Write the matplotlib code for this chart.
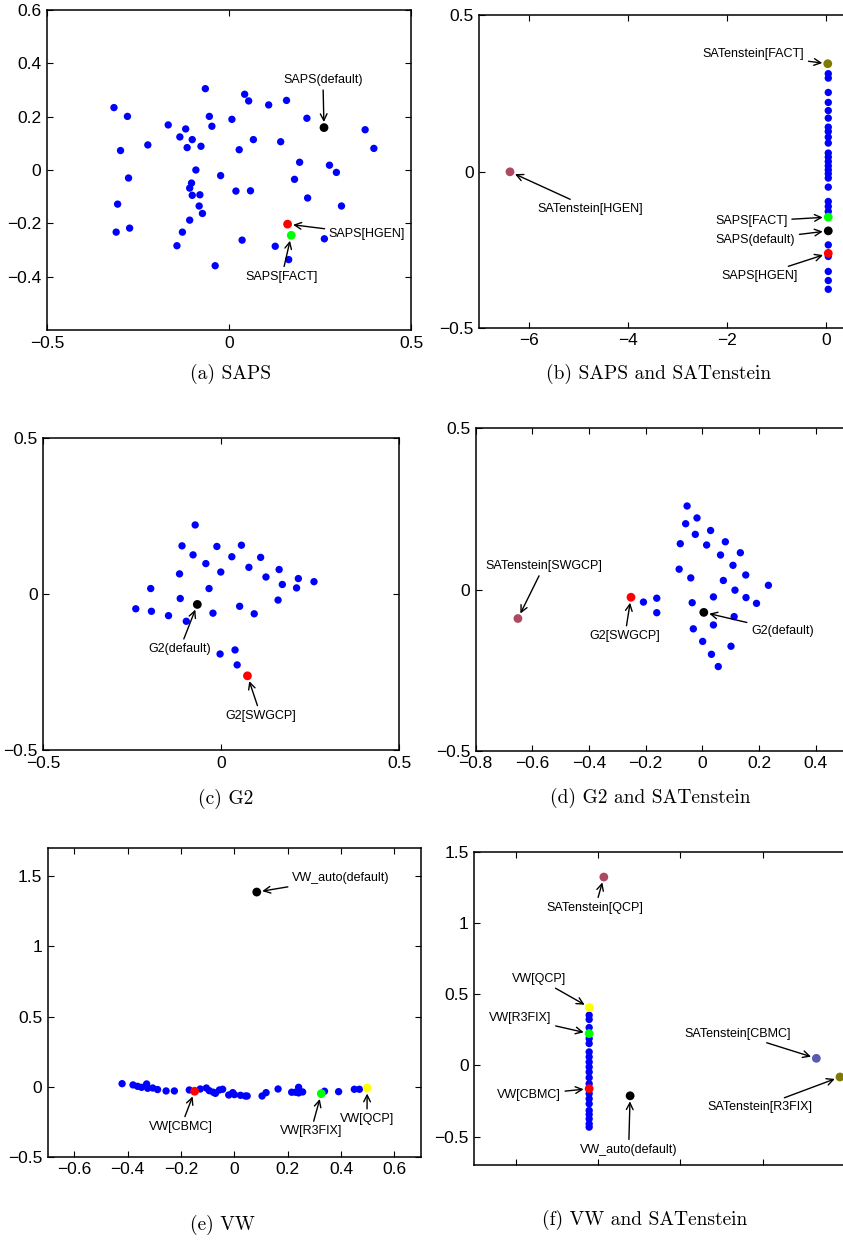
import matplotlib
matplotlib.use("Agg")
import matplotlib.pyplot as plt
from matplotlib import ticker

plt.rcParams['font.family'] = ['Liberation Sans', 'DejaVu Sans']

# ---- (a) SAPS ----
a_x = [-0.316, -0.279, -0.065, 0.043, 0.054, 0.109, 0.158, 0.214, 0.374, 0.398,
       -0.298, -0.223, -0.167, -0.119, -0.135, -0.115, -0.101, -0.077, -0.054, -0.047,
       0.008, 0.028, 0.067, 0.142, 0.194, 0.276, 0.295, 0.180, 0.216, 0.309,
       -0.276, -0.306, -0.310, -0.273, -0.091, -0.023, -0.103, -0.108, -0.101, -0.080,
       -0.082, -0.073, -0.108, -0.128, -0.143, -0.038, 0.019, 0.059, 0.036, 0.127,
       0.164, 0.262]
a_y = [0.234, 0.201, 0.305, 0.284, 0.259, 0.244, 0.261, 0.194, 0.151, 0.081,
       0.073, 0.094, 0.169, 0.154, 0.124, 0.084, 0.114, 0.089, 0.201, 0.164,
       0.190, 0.076, 0.114, 0.106, 0.029, 0.018, -0.009, -0.035, -0.105, -0.135,
       -0.030, -0.128, -0.233, -0.218, 0.000, -0.021, -0.049, -0.068, -0.095, -0.093,
       -0.135, -0.163, -0.188, -0.233, -0.284, -0.359, -0.079, -0.078, -0.263, -0.286,
       -0.336, -0.258]
a_names = ["SAPS(default)", "SAPS[HGEN]", "SAPS[FACT]"]
a_hx = [0.261, 0.161, 0.171]
a_hy = [0.159, -0.203, -0.245]
a_hc = ["black", "red", "#00ff00"]

# ---- (b) SAPS and SATenstein ----
b_y = [0.313, 0.299, 0.253, 0.221, 0.195, 0.171, 0.142, 0.128, 0.110, 0.091,
       0.059, 0.046, 0.032, 0.018, 0.005, -0.007, -0.021, -0.050, -0.096, -0.112,
       -0.128, -0.235, -0.272, -0.320, -0.349, -0.377]
b_x = [0.05] * len(b_y)
b_names = ["SATenstein[FACT]", "SATenstein[HGEN]", "SAPS[FACT]", "SAPS(default)", "SAPS[HGEN]"]
b_hx = [0.04, -6.38, 0.05, 0.05, 0.05]
b_hy = [0.345, -0.001, -0.146, -0.190, -0.262]
b_hc = ["#7f7a00", "#ad4a62", "#00ff00", "black", "red"]

# ---- (c) G2 ----
c_x = [-0.073, -0.110, -0.012, 0.057, -0.079, 0.030, 0.111, -0.043, 0.078, 0.163,
       -0.117, -0.001, 0.126, 0.217, 0.261, 0.172, 0.212, -0.198, -0.034, -0.115,
       0.160, -0.240, -0.196, -0.148, -0.098, -0.023, 0.052, 0.093, -0.003, 0.039,
       0.045]
c_y = [0.222, 0.155, 0.153, 0.157, 0.126, 0.120, 0.118, 0.098, 0.086, 0.079,
       0.065, 0.071, 0.055, 0.050, 0.040, 0.031, 0.020, 0.018, 0.018, -0.014,
       -0.019, -0.047, -0.055, -0.069, -0.087, -0.061, -0.039, -0.063, -0.192, -0.179,
       -0.227]
c_names = ["G2(default)", "G2[SWGCP]"]
c_hx = [-0.067, 0.074]
c_hy = [-0.033, -0.262]
c_hc = ["black", "red"]

# ---- (d) G2 and SATenstein ----
d_x = [-0.054, -0.019, -0.059, 0.029, -0.025, -0.078, 0.015, 0.081, 0.064, 0.134,
       0.108, 0.153, -0.082, -0.041, 0.074, 0.115, 0.233, 0.039, 0.154, 0.191,
       -0.036, 0.112, 0.039, -0.032, 0.001, 0.101, 0.032, 0.056, -0.208, -0.161,
       -0.161]
d_y = [0.259, 0.222, 0.204, 0.183, 0.171, 0.142, 0.138, 0.148, 0.107, 0.114,
       0.075, 0.045, 0.063, 0.036, 0.028, -0.002, 0.013, -0.023, -0.025, -0.043,
       -0.041, -0.084, -0.110, -0.122, -0.161, -0.176, -0.201, -0.239, -0.039, -0.027,
       -0.072]
d_names = ["SATenstein[SWGCP]", "G2[SWGCP]", "G2(default)"]
d_hx = [-0.651, -0.252, 0.005]
d_hy = [-0.090, -0.024, -0.071]
d_hc = ["#ad4a62", "red", "black"]

# ---- (e) VW ----
e_x = [-0.421, -0.380, -0.363, -0.348, -0.329, -0.325, -0.306, -0.288, -0.256, -0.225,
       -0.169, -0.128, -0.105, -0.094, -0.079, -0.071, -0.056, -0.044, -0.021, -0.006,
       0.000, 0.023, 0.041, 0.048, 0.104, 0.119, 0.164, 0.215, 0.229, 0.241,
       0.241, 0.256, 0.338, 0.391, 0.450, 0.469, 0.084]
e_y = [0.021, 0.012, 0.002, -0.005, 0.019, -0.012, -0.010, -0.021, -0.031, -0.031,
       -0.024, -0.017, -0.010, -0.029, -0.040, -0.048, -0.024, -0.019, -0.060, -0.043,
       -0.057, -0.062, -0.067, -0.067, -0.067, -0.043, -0.017, -0.040, -0.040, -0.005,
       -0.045, -0.038, -0.033, -0.036, -0.019, -0.019, 1.385]
e_names = ["VW_auto(default)", "VW[CBMC]", "VW[R3FIX]", "VW[QCP]"]
e_hx = [0.084, -0.149, 0.326, 0.498]
e_hy = [1.388, -0.033, -0.050, -0.010]
e_hc = ["black", "red", "#00ff00", "#ffff00"]

# ---- (f) VW and SATenstein ----
f_y = [0.352, 0.322, 0.265, 0.188, 0.153, 0.094, 0.059, 0.023, -0.012, -0.047,
       -0.087, -0.129, -0.199, -0.235, -0.270, -0.317, -0.345, -0.376, -0.411, -0.434]
f_x = [-0.106] * len(f_y)
f_names = ["SATenstein[QCP]", "VW[QCP]", "VW[R3FIX]", "VW[CBMC]", "VW_auto(default)",
           "SATenstein[CBMC]", "SATenstein[R3FIX]"]
f_hx = [0.072, -0.102, -0.106, -0.106, 0.391, 2.651, 2.938]
f_hy = [1.322, 0.406, 0.223, -0.164, -0.214, 0.049, -0.082]
f_hc = ["#ad4a62", "#ffff00", "#00ff00", "red", "black", "#5a5ab4", "#7f7a00"]

captions = ["(a) SAPS", "(b) SAPS and SATenstein", "(c) G2",
            "(d) G2 and SATenstein", "(e) VW", "(f) VW and SATenstein"]

W, H = 843, 1241
fig = plt.figure(figsize=(W / 100, H / 100), dpi=100)


def add_ax(left, top, width, height):
    return fig.add_axes([left / W, 1 - (top + height) / H, width / W, height / H])


fmt = ticker.FuncFormatter(lambda v, p: f"{v:g}".replace('-', '\u2212'))


def style(ax, xlim, ylim, xt, yt, xlabels=True):
    ax.set_xlim(*xlim)
    ax.set_ylim(*ylim)
    ax.set_xticks(xt)
    ax.set_yticks(yt)
    ax.xaxis.set_major_formatter(fmt)
    ax.yaxis.set_major_formatter(fmt)
    if not xlabels:
        ax.set_xticklabels([])
    ax.tick_params(direction='in', top=True, right=True, length=4, width=0.8,
                   labelsize=12.5, pad=4)
    for s in ax.spines.values():
        s.set_linewidth(1.1)


def dots(ax, x, y, hx, hy, hc):
    ax.scatter(x, y, s=28, c="blue", edgecolors="none", zorder=2)
    ax.scatter(hx, hy, s=40, c=hc, edgecolors="none", zorder=3)


def note(ax, text, xy, xytext):
    ax.annotate(text, xy=xy, xytext=xytext, ha='center', va='center', fontsize=9,
                arrowprops=dict(arrowstyle='->', color='black', lw=1.0,
                                shrinkA=1, shrinkB=4, mutation_scale=12))


# (a)
ax = add_ax(47, 10, 364, 320)
dots(ax, a_x, a_y, a_hx, a_hy, a_hc)
style(ax, (-0.5, 0.5), (-0.6, 0.6), [-0.5, 0, 0.5], [-0.4, -0.2, 0, 0.2, 0.4, 0.6])
note(ax, a_names[0], (a_hx[0], a_hy[0]), (0.258, 0.338))
note(ax, a_names[1], (a_hx[1], a_hy[1]), (0.379, -0.24))
note(ax, a_names[2], (a_hx[2], a_hy[2]), (0.145, -0.40))

# (b)
ax = add_ax(479.3, 15.3, 396, 312.4)
dots(ax, b_x, b_y, b_hx, b_hy, b_hc)
style(ax, (-7, 1), (-0.5, 0.5), [-6, -4, -2, 0], [-0.5, 0, 0.5])
note(ax, b_names[0], (b_hx[0], b_hy[0]), (-1.46, 0.375))
note(ax, b_names[1], (b_hx[1], b_hy[1]), (-4.75, -0.119))
note(ax, b_names[2], (b_hx[2], b_hy[2]), (-1.50, -0.160))
note(ax, b_names[3], (b_hx[3], b_hy[3]), (-1.42, -0.2185))
note(ax, b_names[4], (b_hx[4], b_hy[4]), (-1.33, -0.333))

# (c)
ax = add_ax(43.3, 438.3, 355.7, 311.7)
dots(ax, c_x, c_y, c_hx, c_hy, c_hc)
style(ax, (-0.5, 0.5), (-0.5, 0.5), [-0.5, 0, 0.5], [-0.5, 0, 0.5])
note(ax, c_names[0], (c_hx[0], c_hy[0]), (-0.116, -0.176))
note(ax, c_names[1], (c_hx[1], c_hy[1]), (0.1115, -0.390))

# (d)
ax = add_ax(475.7, 428.3, 396.7, 322.4)
dots(ax, d_x, d_y, d_hx, d_hy, d_hc)
style(ax, (-0.8, 0.6), (-0.5, 0.5), [-0.8, -0.6, -0.4, -0.2, 0, 0.2, 0.4], [-0.5, 0, 0.5])
note(ax, d_names[0], (d_hx[0], d_hy[0]), (-0.559, 0.0735))
note(ax, d_names[1], (d_hx[1], d_hy[1]), (-0.2735, -0.144))
note(ax, d_names[2], (d_hx[2], d_hy[2]), (0.282, -0.128))

# (e)
ax = add_ax(47.7, 848.3, 373.3, 308.4)
dots(ax, e_x, e_y, e_hx, e_hy, e_hc)
style(ax, (-0.7, 0.7), (-0.5, 1.7), [-0.6, -0.4, -0.2, 0, 0.2, 0.4, 0.6],
      [-0.5, 0, 0.5, 1, 1.5])
note(ax, e_names[0], (e_hx[0], e_hy[0]), (0.399, 1.488))
note(ax, e_names[1], (e_hx[1], e_hy[1]), (-0.2, -0.286))
note(ax, e_names[2], (e_hx[2], e_hy[2]), (0.287, -0.319))
note(ax, e_names[3], (e_hx[3], e_hy[3]), (0.4975, -0.231))

# (f)
ax = add_ax(474.3, 851.7, 412, 313.3)
dots(ax, f_x, f_y, f_hx, f_hy, f_hc)
style(ax, (-1.5, 3.5), (-0.7, 1.5), [-1, 0, 1, 2, 3], [-0.5, 0, 0.5, 1, 1.5], xlabels=False)
note(ax, f_names[0], (f_hx[0], f_hy[0]), (-0.032, 1.108))
note(ax, f_names[1], (f_hx[1], f_hy[1]), (-0.717, 0.608))
note(ax, f_names[2], (f_hx[2], f_hy[2]), (-0.941, 0.333))
note(ax, f_names[3], (f_hx[3], f_hy[3]), (-0.836, -0.207))
note(ax, f_names[4], (f_hx[4], f_hy[4]), (0.373, -0.592))
note(ax, f_names[5], (f_hx[5], f_hy[5]), (1.693, 0.223))
note(ax, f_names[6], (f_hx[6], f_hy[6]), (1.962, -0.293))

# captions
cap_pos = [(231, 374), (659, 374), (226, 799), (650, 798), (222, 1225), (645, 1220)]
for text, (px, py) in zip(captions, cap_pos):
    fig.text(px / W, 1 - py / H, text, ha='center', va='center',
             fontsize=14, family='cmr10')

fig.savefig("out.png", dpi=100)
